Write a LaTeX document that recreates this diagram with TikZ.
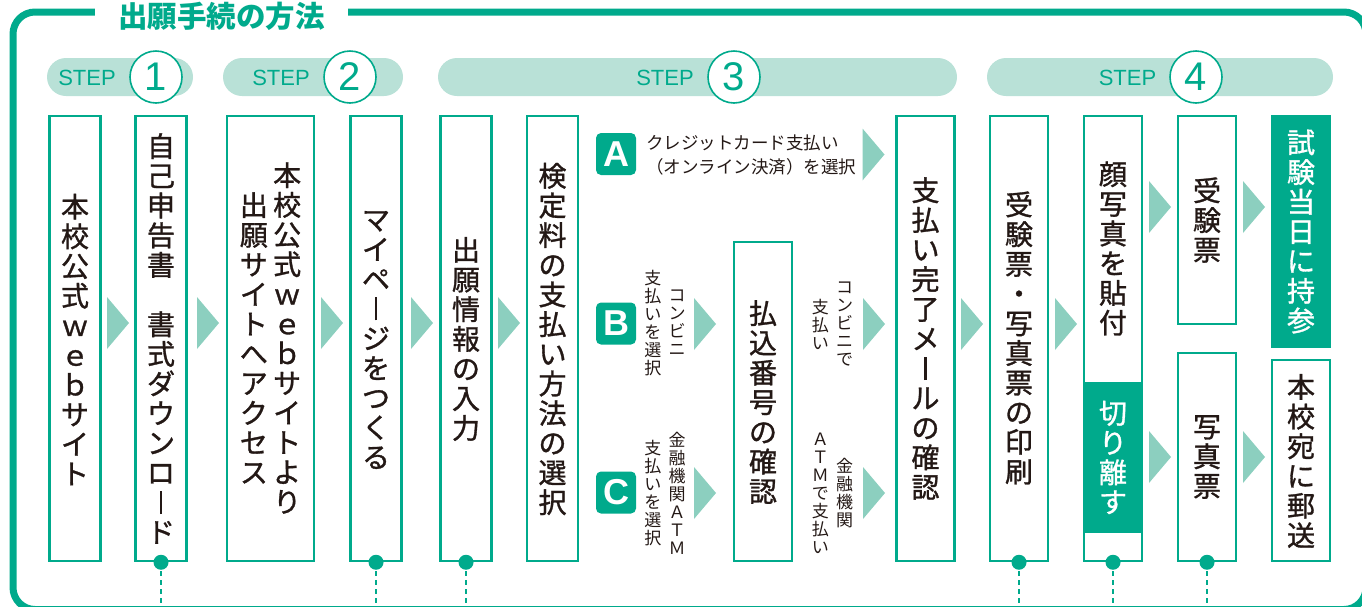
\documentclass[tikz,border=0pt]{standalone}
\usepackage{fontspec}
\newfontfamily\jp{Noto Sans CJK JP}
\newfontfamily\jpm{Noto Sans CJK JP}[FakeBold=1.1]
\newfontfamily\lat{Liberation Sans}
\definecolor{fg}{HTML}{00AA8C}
\definecolor{pillc}{HTML}{B9E1D7}
\definecolor{arrc}{HTML}{8CCFBF}
\definecolor{textc}{HTML}{231815}
\def\vtend{\vtendmarker}
\newcommand\vt[1]{\vbox{\baselineskip=1.06em\lineskiplimit=-\maxdimen\vtloop#1\vtend}}
\def\vtloop#1{\ifx#1\vtend\else\hbox to 1.1em{\hss#1\hss}\expandafter\vtloop\fi}
\newcommand\vc[1]{\vcenter{\vt{#1}}}
\newcommand\vbar{\rule[-0.04em]{0.08em}{0.84em}}
\newcommand\tri[2]{\fill[arrc] ({#1-11},{#2-26}) -- ({#1+11},{#2}) -- ({#1-11},{#2+26}) -- cycle;}
\begin{document}
\begin{tikzpicture}[x=1pt,y=-1pt,
  box/.style={draw=fg, line width=2.5pt, fill=white, rectangle, inner sep=0pt},
  gbox/.style={fill=fg, rectangle, inner sep=0pt, text=white},
  big/.style={font=\jpm\fontsize{28}{30}\selectfont},
  vtxt/.style={big, text=textc, inner sep=0pt},
  svt/.style={font=\jp\fontsize{17}{18}\selectfont, text=textc, inner sep=0pt},
  pill/.style={fill=pillc, rounded corners=19pt},
  steplbl/.style={text=fg, font=\lat\fontsize{22}{22}\selectfont, inner sep=0pt},
  numc/.style={circle, draw=fg, line width=1.6pt, fill=white, minimum size=52pt, inner sep=0pt, text=fg, font=\lat\fontsize{40}{40}\selectfont},
  badge/.style={fill=fg, rounded corners=5pt, minimum width=40pt, minimum height=42pt, inner sep=0pt, text=white, font=\lat\bfseries\fontsize{36}{36}\selectfont},
  dotc/.style={fill=fg},
  dashline/.style={draw=fg, line width=1.8pt, dash pattern=on 5pt off 4pt}
]
\useasboundingbox (0,0) rectangle (1362,606);
\clip (0,0) rectangle (1362,606);
% frame
\draw[fg, line width=7pt, rounded corners=22pt] (13,12) rectangle (1366,609.5);
\node[fill=white, minimum width=253pt, minimum height=20pt, inner sep=0pt] (gap) at (221.5,12) {};
\node[font=\jp\bfseries\fontsize{29.5}{30}\selectfont, text=fg, inner sep=0pt] (title) at (221.5,16) {出願手続の方法};
% step pills
\fill[pill] (47,58) rectangle (193,96);
\fill[pill] (223,58) rectangle (403,96);
\fill[pill] (438,58) rectangle (957,96);
\fill[pill] (987,58) rectangle (1333,96);
\node[steplbl] (s1) at (87,78) {STEP};
\node[steplbl] (s2) at (281,78) {STEP};
\node[steplbl] (s3) at (665,78) {STEP};
\node[steplbl] (s4) at (1127.5,78) {STEP};
\node[numc] (n1) at (156,77) {1};
\node[numc] (n2) at (350,77) {2};
\node[numc] (n3) at (734,77) {3};
\node[numc] (n4) at (1196,77) {4};
% boxes
\node[box, minimum width=51pt, minimum height=445pt] (b1) at (75,338.5) {};
\node[vtxt] (t1) at (75,339.5) {\vt{本校公式ｗｅｂサイト}};
\node[box, minimum width=51pt, minimum height=445pt] (b2) at (161,338.5) {};
\node[vtxt] (t2) at (161,338.5) {\vt{自己申告書　書式ダウンロ\vbar ド}};
\node[box, minimum width=87pt, minimum height=445pt] (b3) at (270.5,338.5) {};
\node[vtxt] (t3) at (270.5,338) {$\vc{出願サイトへアクセス}\kern2.5pt\vc{本校公式ｗｅｂサイトより}$};
\node[box, minimum width=51pt, minimum height=445pt] (b4) at (376,338.5) {};
\node[vtxt] (t4) at (376,340) {\vt{マイペ\vbar ジをつくる}};
\node[box, minimum width=51pt, minimum height=445pt] (b5) at (466,338.5) {};
\node[vtxt] (t5) at (466,339) {\vt{出願情報の入力}};
\node[box, minimum width=51pt, minimum height=445pt] (b6) at (552.5,338.5) {};
\node[vtxt] (t6) at (552.5,339) {\vt{検定料の支払い方法の選択}};
\node[box, minimum width=58pt, minimum height=319pt] (b7) at (763,401.5) {};
\node[vtxt] (t7) at (763,402) {\vt{払込番号の確認}};
\node[box, minimum width=58pt, minimum height=445pt] (b8) at (925.5,338.5) {};
\node[vtxt] (t8) at (925.5,338.5) {\vt{支払い完了メ\vbar ルの確認}};
\node[box, minimum width=58pt, minimum height=445pt] (b9) at (1019,338.5) {};
\node[vtxt] (t9) at (1019,338) {\vt{受験票・写真票の印刷}};
\node[box, minimum width=58pt, minimum height=445pt] (b10) at (1113,338.5) {};
\node[gbox, minimum width=58pt, minimum height=151pt, big] (b10c) at (1113,457.5) {\vt{切り離す}};
\node[vtxt] (t10) at (1113,248.5) {\vt{顔写真を貼付}};
\node[box, minimum width=58pt, minimum height=208pt] (b11) at (1207,220) {};
\node[vtxt] (t11) at (1207,220) {\vt{受験票}};
\node[box, minimum width=58pt, minimum height=208pt] (b12) at (1207,457) {};
\node[vtxt] (t12) at (1207,457) {\vt{写真票}};
\node[gbox, minimum width=60pt, minimum height=233pt, big] (b13) at (1301,231.5) {\vt{試験当日に持参}};
\node[box, minimum width=58pt, minimum height=201pt] (b14) at (1301,460.5) {};
\node[vtxt] (t14) at (1301,461) {\vt{本校宛に郵送}};
% badges and option texts
\node[badge] (ba) at (616,154) {A};
\node[badge] (bb) at (616,323.5) {B};
\node[badge] (bc) at (616,492.5) {C};
\node[anchor=west, align=left, font=\jp\fontsize{17.5}{23.5}\selectfont, text=textc, inner sep=0pt] (ta) at (646,155) {クレジットカード支払い\\（オンライン決済）を選択};
\node[svt] (tb) at (665,323) {$\vc{支払いを選択}\kern5.5pt\vc{コンビニ}$};
\node[svt] (tc) at (665,493) {$\vc{支払いを選択}\kern5.5pt\vc{金融機関ＡＴＭ}$};
\node[svt] (tb2) at (832.5,324) {$\vc{支払い}\kern5.5pt\vc{コンビニで}$};
\node[svt] (tc2) at (832.5,493) {$\vc{ＡＴＭで支払い}\kern5.5pt\vc{金融機関}$};
% arrows
\tri{118}{323}
\tri{208}{323}
\tri{332}{323}
\tri{422}{323}
\tri{509}{323}
\tri{873.5}{154.5}
\tri{705}{324}
\tri{874}{324}
\tri{705}{493}
\tri{874}{493}
\tri{972}{324}
\tri{1066}{324}
\tri{1160}{207}
\tri{1254}{207}
\tri{1160}{457}
\tri{1254}{457}
% dots and dashed leaders
\foreach \b in {b2,b4,b5,b9,b10,b12}{
  \draw[dashline] (\b.south) -- ++(0,50);
  \fill[dotc] (\b.south) circle (7.5);
}
\end{tikzpicture}
\end{document}
